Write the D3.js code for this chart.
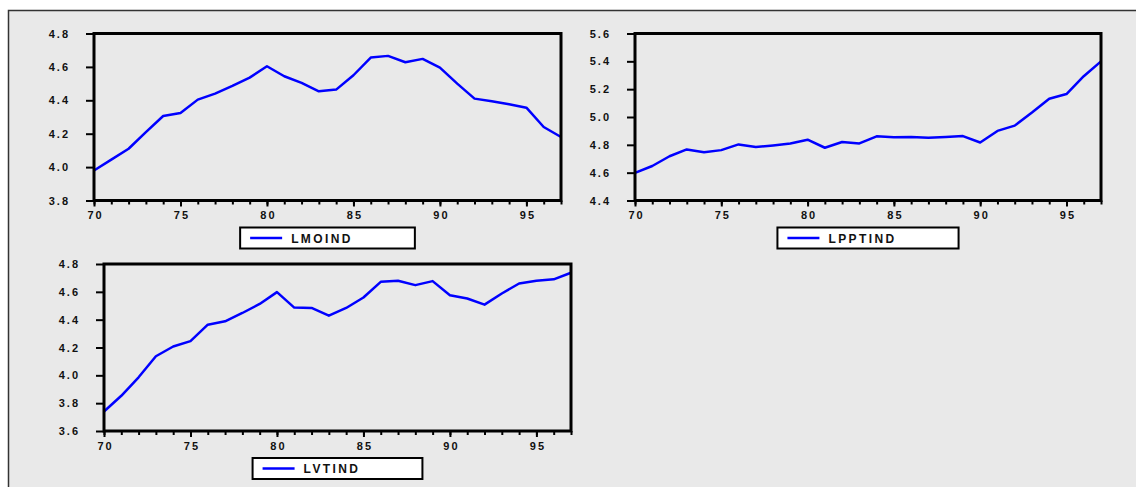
<!DOCTYPE html>
<html>
<head>
<meta charset="utf-8">
<script src="https://cdn.jsdelivr.net/npm/d3@7"></script>
<style>
  html, body { margin: 0; padding: 0; background: #ffffff; }
  svg { display: block; }
  text { font-family: "Liberation Sans", Arial, sans-serif; font-weight: bold; fill: #111; }
</style>
</head>
<body>
<svg id="chart" width="1136" height="487"></svg>
<script>
// ---- data ----
const years = d3.range(1970, 1998);
const xTickLabels = ["70", "75", "80", "85", "90", "95"];

const lmoind = [3.98, 4.045, 4.11, 4.21, 4.306, 4.324, 4.404, 4.44, 4.486, 4.536,
                4.604, 4.544, 4.504, 4.454, 4.464, 4.55, 4.656, 4.666, 4.628, 4.648,
                4.596, 4.50, 4.41, 4.394, 4.376, 4.356, 4.24, 4.18];
const lpptind = [4.598, 4.648, 4.718, 4.767, 4.747, 4.762, 4.803, 4.784, 4.796, 4.81,
                 4.837, 4.779, 4.82, 4.81, 4.861, 4.854, 4.856, 4.851, 4.856, 4.863,
                 4.817, 4.90, 4.938, 5.032, 5.131, 5.165, 5.293, 5.40];
const lvtind = [3.74, 3.853, 3.986, 4.137, 4.207, 4.246, 4.364, 4.388, 4.448, 4.513,
                4.598, 4.487, 4.484, 4.429, 4.484, 4.559, 4.672, 4.68, 4.648, 4.677,
                4.576, 4.552, 4.508, 4.588, 4.66, 4.68, 4.69, 4.737];

const lmoindTicks = [3.8, 4.0, 4.2, 4.4, 4.6, 4.8];
const lpptindTicks = [4.4, 4.6, 4.8, 5.0, 5.2, 5.4, 5.6];
const lvtindTicks = [3.6, 3.8, 4.0, 4.2, 4.4, 4.6, 4.8];

// ---- drawing ----
const svg = d3.select("#chart");

svg.append("rect")
  .attr("x", 8.5).attr("y", 10.5)
  .attr("width", 1200).attr("height", 600)
  .attr("fill", "#e9e9e9")
  .attr("stroke", "#333").attr("stroke-width", 1.5);

const panels = [
  { name: "LMOIND", values: lmoind, ticks: lmoindTicks, box: [94, 33.5, 561, 200.5] },
  { name: "LPPTIND", values: lpptind, ticks: lpptindTicks, box: [635, 33.5, 1101, 200.5] },
  { name: "LVTIND", values: lvtind, ticks: lvtindTicks, box: [104, 264, 571, 431] }
];

panels.forEach(p => {
  const [x0, y0, x1, y1] = p.box;
  const x = d3.scaleLinear().domain([1970, 1997]).range([x0, x1]);
  const y = d3.scaleLinear().domain(d3.extent(p.ticks)).range([y1, y0]);
  const g = svg.append("g");

  // y ticks
  const yAxis = d3.axisLeft(y).tickValues(p.ticks).tickSize(8).tickPadding(16)
    .tickFormat(d3.format(".1f"));
  const ya = g.append("g").attr("transform", `translate(${x0},0)`).call(yAxis);
  ya.select(".domain").remove();
  ya.selectAll(".tick line").attr("stroke", "#000").attr("stroke-width", 2);
  ya.selectAll(".tick text").attr("font-size", 11).attr("letter-spacing", 2)
    .attr("fill", "#111").attr("font-family", "Liberation Sans, Arial, sans-serif")
    .attr("font-weight", "bold");

  // x minor ticks (every year)
  const xMinor = d3.axisBottom(x).tickValues(years).tickSize(4).tickFormat("");
  const xm = g.append("g").attr("transform", `translate(0,${y1})`).call(xMinor);
  xm.select(".domain").remove();
  xm.selectAll(".tick line").attr("stroke", "#000").attr("stroke-width", 2);

  // x major ticks
  const majors = xTickLabels.map(s => 1900 + (+s));
  const xAxis = d3.axisBottom(x).tickValues(majors).tickSize(6).tickPadding(5)
    .tickFormat((d, i) => xTickLabels[i]);
  const xa = g.append("g").attr("transform", `translate(0,${y1})`).call(xAxis);
  xa.select(".domain").remove();
  xa.selectAll(".tick line").attr("stroke", "#000").attr("stroke-width", 2);
  xa.selectAll(".tick text").attr("font-size", 11).attr("letter-spacing", 2)
    .attr("dx", 1)
    .attr("fill", "#111").attr("font-family", "Liberation Sans, Arial, sans-serif")
    .attr("font-weight", "bold");

  // series line
  const line = d3.line().x((d, i) => x(years[i])).y(d => y(d));
  g.append("path").datum(p.values)
    .attr("d", line)
    .attr("fill", "none")
    .attr("stroke", "#0000ff")
    .attr("stroke-width", 2.5)
    .attr("stroke-linejoin", "round");

  // frame
  g.append("rect")
    .attr("x", x0).attr("y", y0)
    .attr("width", x1 - x0).attr("height", y1 - y0)
    .attr("fill", "none").attr("stroke", "#000").attr("stroke-width", 3);

  // legend
  const lg = g.append("g");
  const ly0 = y1 + 27;
  const lh = 21;
  const txt = lg.append("text")
    .attr("font-size", 12).attr("letter-spacing", 2.4)
    .attr("y", ly0 + 15)
    .text(p.name);
  const tw = txt.node().getComputedTextLength();
  const bw = tw + 113;
  const bx = (x0 + x1) / 2 - bw / 2;
  lg.insert("rect", "text")
    .attr("x", bx).attr("y", ly0)
    .attr("width", bw).attr("height", lh)
    .attr("fill", "#fff").attr("stroke", "#000").attr("stroke-width", 2);
  lg.append("line")
    .attr("x1", bx + 10).attr("x2", bx + 42)
    .attr("y1", ly0 + lh / 2).attr("y2", ly0 + lh / 2)
    .attr("stroke", "#0000ff").attr("stroke-width", 2.5);
  txt.attr("x", bx + 51);
});
</script>
</body>
</html>
